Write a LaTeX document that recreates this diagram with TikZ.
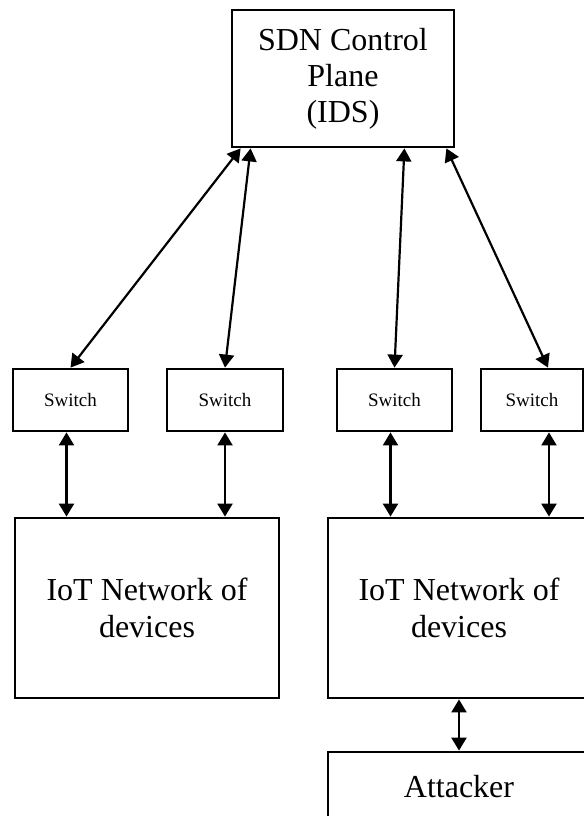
\documentclass[tikz,border=0pt]{standalone}
\usepackage{fontspec}
\setmainfont{Liberation Serif}
\usetikzlibrary{arrows.meta}

\begin{document}
\begin{tikzpicture}[x=0.5pt,y=-0.5pt,
  bigbox/.style={draw, line width=1.4pt, inner sep=0pt, align=center,
    font=\fontsize{16}{18}\selectfont},
  switchbox/.style={draw, line width=1.4pt, inner sep=0pt,
    minimum height=31pt, font=\fontsize{9.5}{11}\selectfont},
  link/.style={line width=1.1pt, {Triangle[length=6.5pt,width=7.5pt]}-{Triangle[length=6.5pt,width=7.5pt]}}]
\useasboundingbox (0,0) rectangle (584,816);
% Control plane at the top
\node[font=\fontsize{16}{18}\selectfont, anchor=base] (label) at (303,-8) {(i)};
\node[bigbox, minimum width=111pt, minimum height=68.5pt] (sdn) at (343,78.5) {SDN Control\\Plane\\(IDS)};
% Switches
\node[switchbox, minimum width=57.5pt] (sw1) at (70.5,400) {Switch};
\node[switchbox, minimum width=58pt] (sw2) at (225,400) {Switch};
\node[switchbox, minimum width=57.5pt] (sw3) at (394.5,400) {Switch};
\node[switchbox, minimum width=51pt] (sw4) at (532,400) {Switch};
% IoT networks and the attacker
\node[bigbox, minimum width=132pt, minimum height=90pt, font=\fontsize{16}{18.5}\selectfont] (iot1) at (147,608) {IoT Network of\\devices};
\node[bigbox, minimum width=131pt, minimum height=90pt, font=\fontsize{16}{18.5}\selectfont] (iot2) at (459,608) {IoT Network of\\devices};
\node[bigbox, minimum width=131pt, minimum height=35pt] (att) at (459,787) {Attacker};
% Links
\draw[link] ([xshift=5pt]sdn.south west) -- (sw1.north);
\draw[link] ([xshift=10pt]sdn.south west) -- (sw2.north);
\draw[link] ([xshift=-25.5pt]sdn.south east) -- (sw3.north);
\draw[link] ([xshift=-4.5pt]sdn.south east) -- ([xshift=8pt]sw4.north);
\draw[link] ([xshift=-2pt]sw1.south) -- ([xshift=-2pt]sw1.south |- iot1.north);
\draw[link] (sw2.south) -- (sw2.south |- iot1.north);
\draw[link] ([xshift=-2pt]sw3.south) -- ([xshift=-2pt]sw3.south |- iot2.north);
\draw[link] ([xshift=8.5pt]sw4.south) -- ([xshift=8.5pt]sw4.south |- iot2.north);
\draw[link] (iot2.south) -- (att.north);
\end{tikzpicture}
\end{document}
